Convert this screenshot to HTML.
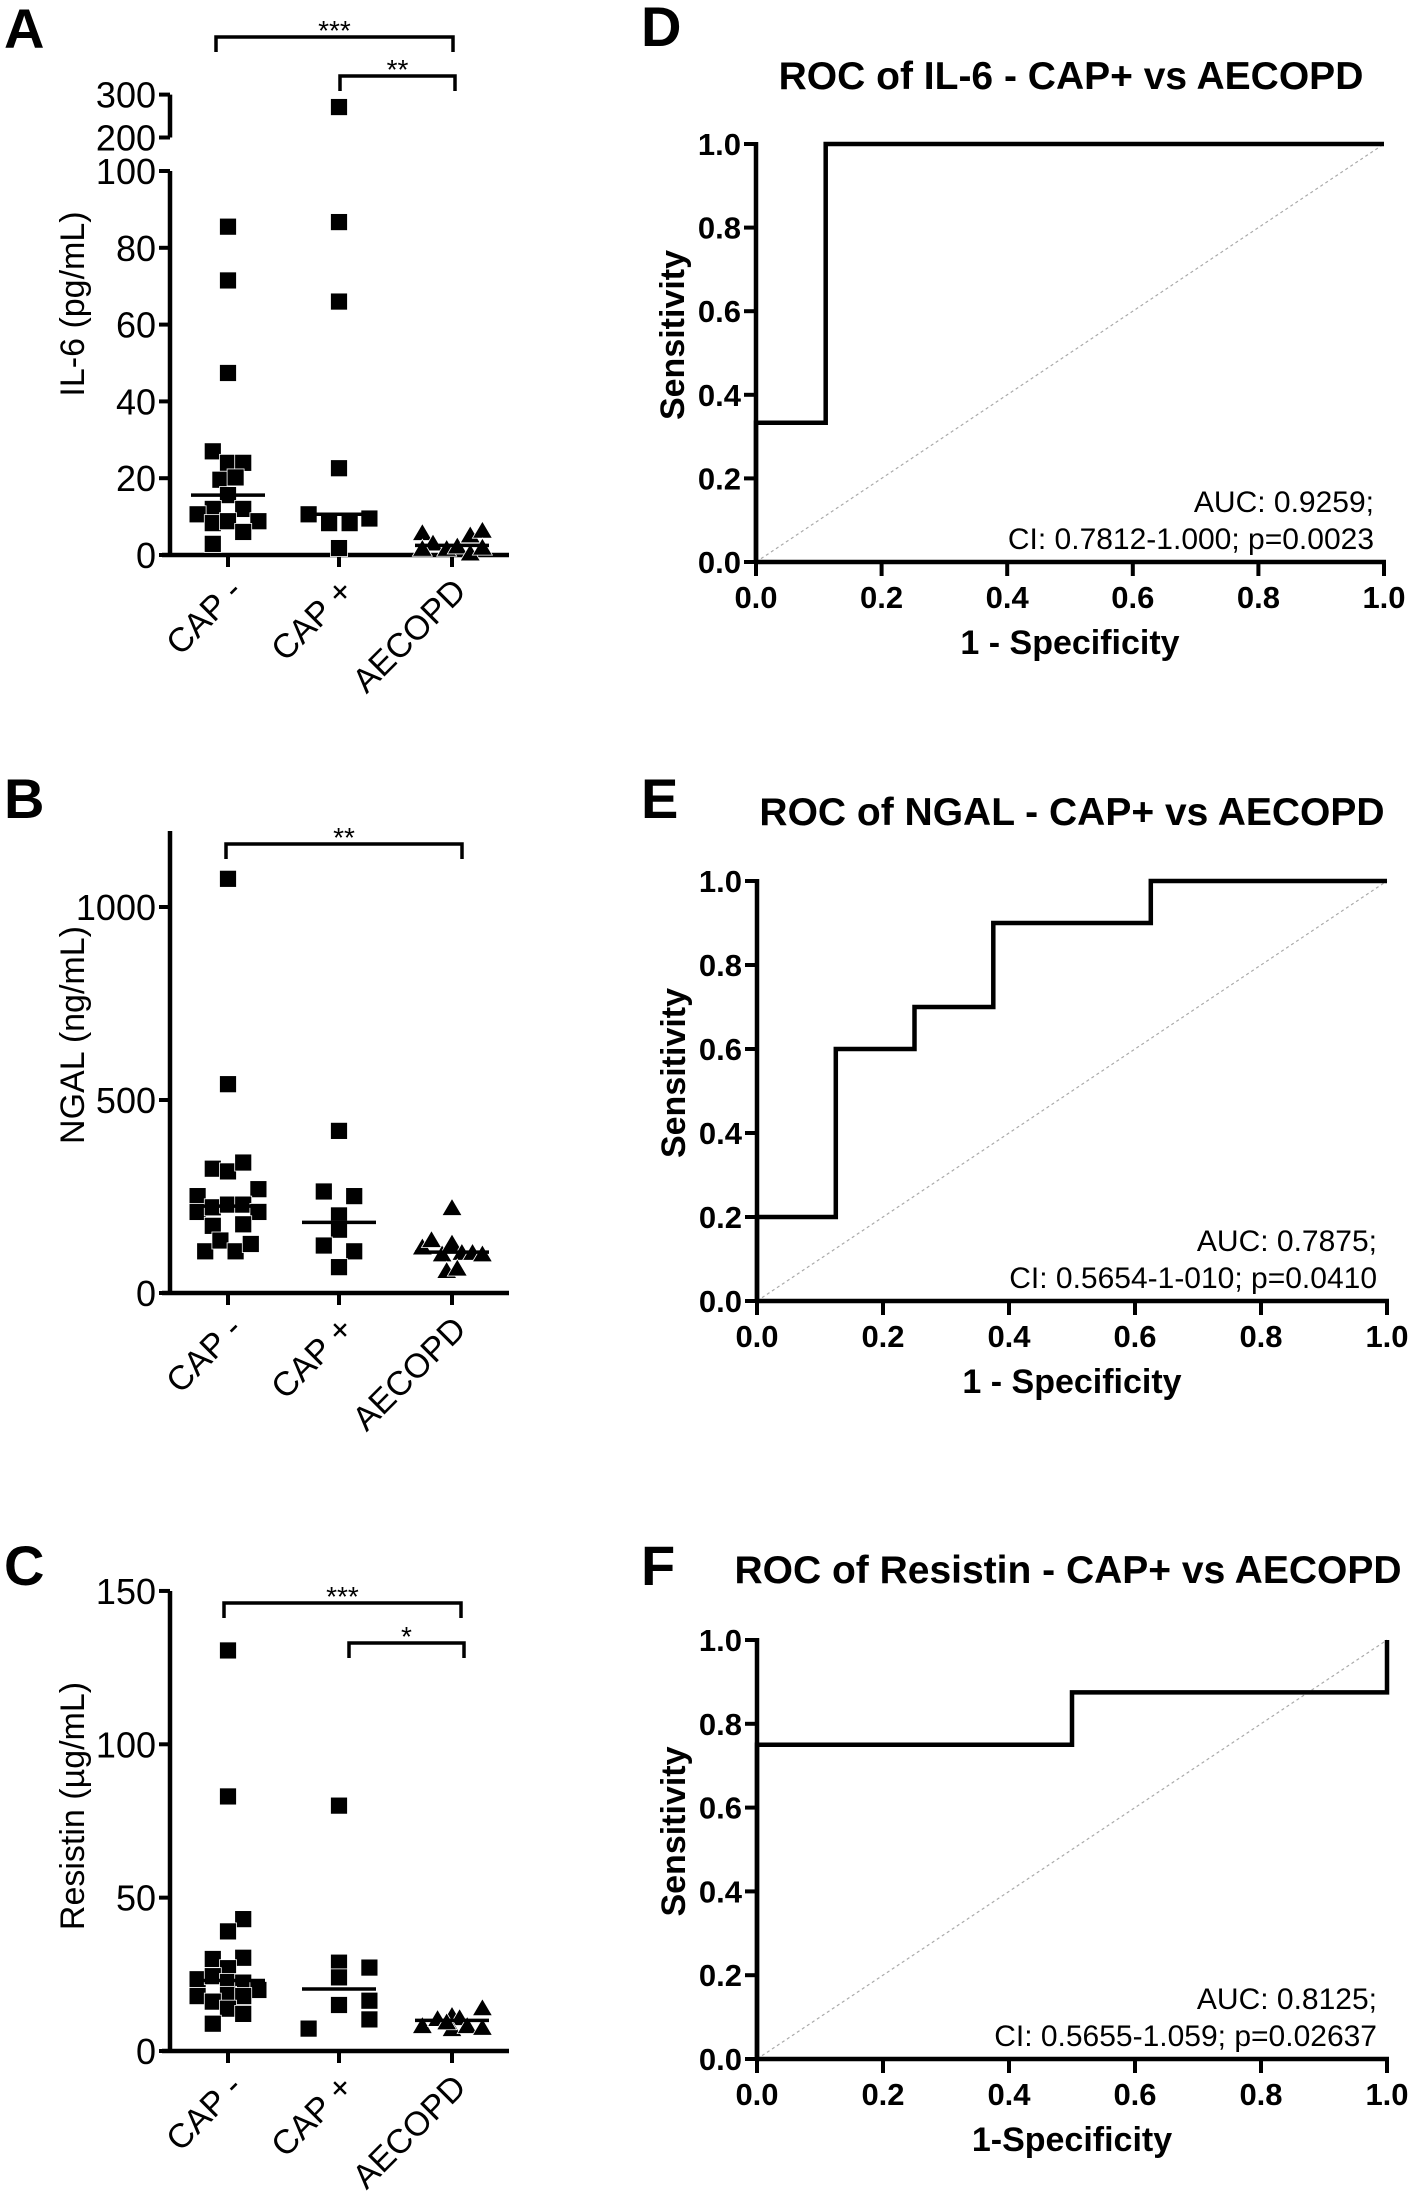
<!DOCTYPE html>
<html><head><meta charset="utf-8">
<style>
html,body{margin:0;padding:0;background:#fff;}
svg{display:block;font-family:"Liberation Sans",Arial,sans-serif;}
</style></head>
<body>
<svg id="fig" width="1417" height="2196" viewBox="0 0 1417 2196" xmlns="http://www.w3.org/2000/svg">
<rect width="1417" height="2196" fill="#fff"/>
<g font-weight="bold" font-size="56" fill="#000">
<text x="4" y="48">A</text>
<text x="4" y="818">B</text>
<text x="4" y="1585">C</text>
<text x="641" y="46">D</text>
<text x="641" y="818">E</text>
<text x="641" y="1585">F</text>
</g>
<g id="layer"></g>
</svg>
<script>
// ---------- Data: scatter panels ----------
const categories = ["CAP -", "CAP +", "AECOPD"];

const il6CapNeg = [85.5,71.5,47.4,27,24,24,19.6,20.2,15.6,12,12,10.6,8.3,8.8,8.8,6,2.9];
const il6CapPos = [271,86.7,66,22.6,10.6,8.3,8.3,9.5,1.8];
const il6Aecopd = [5.6,2.9,1.5,2.1,5,6.2,1.5,0.3,1.8];
const il6Medians = [15.6,10.6,2.5];

const ngalCapNeg = [1073,541,322,315,338,251,269,210,222,229,229,210,174,178,108,136,108,127];
const ngalCapPos = [420,263,251,201,164,123,108,67];
const ngalAecopd = [219,117,136,99,127,103,103,99,56,62];
const ngalMedians = [225,183,106];

const resCapNeg = [130.6,83,43,39,30,30.4,27,23.4,24.4,22.5,22.3,19.9,17.9,18.3,17.9,16.1,13.8,12.1,8.9];
const resCapPos = [80,28.8,27.2,24,15,16.4,10.3,7.3];
const resAecopd = [8,10.3,11.3,10.6,13.8,7,8,7.4,9.2];
const resMedians = [23,20.2,10];

const il6Ticks = [0,20,40,60,80,100];
const il6BreakTicks = [200,300];
const ngalTicks = [0,500,1000];
const resTicks = [0,50,100,150];

// ---------- Data: ROC panels ----------
const rocIl6Fpr = [0,0,0.111,0.111,1];
const rocIl6Tpr = [0,0.333,0.333,1,1];
const rocNgalFpr = [0,0,0.125,0.125,0.25,0.25,0.375,0.375,0.625,0.625,1];
const rocNgalTpr = [0,0.2,0.2,0.6,0.6,0.7,0.7,0.9,0.9,1,1];
const rocResFpr = [0,0,0.5,0.5,1,1];
const rocResTpr = [0,0.75,0.75,0.875,0.875,1];
const rocTicks = [0,0.2,0.4,0.6,0.8,1.0];

// jitter (layout units, not data)
const jA = [[0,0,0,-1,0,1,-0.5,0.5,0,-1,1,-2,-1,0,2,1,-1],[0,0,0,0,-2,-0.65,0.7,2,0],[-1.95,-1.25,-0.35,0.35,1.2,2,-1.95,1.2,2]];
const jB = [[0,0,-1,0,1,-2,2,-2,-1,0,1,2,-1,1,-1.5,-0.5,0.5,1.5],[0,-1,1,0,0,-1,1,0],[0,-1.95,-1.35,-0.65,0,0.65,1.35,2,-0.35,0.35]];
const jC = [[0,0,1,0,-1,1,0,-2,-1,0,1,2,-2,0,1,-1,0,1,-1],[0,0,2,0,0,2,2,-2],[-1.95,-0.95,0,0.5,2,0,1,2,-0.35]];

const NS = "http://www.w3.org/2000/svg";
const layer = document.getElementById("layer");
function mk(tag, attrs, parent, txt){
  const e = document.createElementNS(NS, tag);
  for (const k in attrs) e.setAttribute(k, attrs[k]);
  if (txt !== undefined) e.textContent = txt;
  (parent || layer).appendChild(e);
  return e;
}
function line(x1,y1,x2,y2,w,p,col){ return mk("line",{x1,y1,x2,y2,stroke:col||"#000","stroke-width":w||4},p); }

const catX = [228, 339, 452];
const AX = 170, XEND = 509, JU = 15.2, MS = 17;

function scatterPanel(cfg){
  const g = mk("g",{});
  
  
  const y0 = cfg.y(0);
  const xa = line(AX-8, y0, XEND, y0, 4.5, g);
  
  
  categories.forEach((c,i)=>{
    line(catX[i], y0, catX[i], y0+12, 4, g);
    const t = mk("text",{x:catX[i]+16,y:y0+38,"font-size":34,"text-anchor":"end",transform:`rotate(-45 ${catX[i]+16} ${y0+38})`},g,c);
    
    
  });
  const ya = line(AX, y0, AX, cfg.yTop, 4.5, g);
  
  
  cfg.ticks.forEach(v=>{
    const yy = cfg.y(v);
    line(AX-11, yy, AX, yy, 4, g);
    const t = mk("text",{x:AX-14,y:yy+13,"font-size":36,"text-anchor":"end"},g,String(v));
    
    
  });
  if (cfg.breakTicks){
    const ys = cfg.breakTicks.map(cfg.yUp);
    line(AX, ys[0], AX, ys[1], 4.5, g);
    cfg.breakTicks.forEach((v,i)=>{
      line(AX-11, ys[i], AX, ys[i], 4, g);
      const t = mk("text",{x:AX-14,y:ys[i]+13,"font-size":36,"text-anchor":"end"},g,String(v));
      
      
    });
  }
  const yl = mk("text",{x:0,y:0,"font-size":34,"text-anchor":"middle",transform:`translate(${cfg.labelX} ${cfg.labelY}) rotate(-90)`},g,cfg.label);
  
  
  cfg.series.forEach((vals,ci)=>{
    vals.forEach((v,k)=>{
      const cx = catX[ci] + cfg.jit[ci][k]*JU;
      const cy = (cfg.yUp && v > 150) ? cfg.yUp(v) : cfg.y(v);
      let m;
      if (ci < 2){
        m = mk("rect",{x:cx-MS/2,y:cy-MS/2,width:MS,height:MS,fill:"#000",stroke:"#fff","stroke-width":0.8},g);
      } else {
        m = mk("polygon",{points:`${cx},${cy-10} ${cx+10},${cy+7} ${cx-10},${cy+7}`,fill:"#000",stroke:"#fff","stroke-width":0.8},g);
      }
      
      
    });
  });
  cfg.medians.forEach((v,i)=>{
    const m = line(catX[i]-37, cfg.y(v), catX[i]+37, cfg.y(v), 3.5, g);
    
    
  });
  cfg.brackets.forEach(b=>{
    const p = mk("path",{d:`M${b.x1},${b.y+15} V${b.y} H${b.x2} V${b.y+15}`,fill:"none",stroke:"#000","stroke-width":3.5},g);
    
    
    const t = mk("text",{x:(b.x1+b.x2)/2,y:b.y+3,"font-size":28,"text-anchor":"middle"},g,b.s);
    
    
  });
}

scatterPanel({name:"panel-a-il6", y:v=>555 - v*3.84, yUp:v=>137.5-(v-200)*0.429, yTop:171,
  ticks:il6Ticks, breakTicks:il6BreakTicks, label:"IL-6 (pg/mL)", labelX:84, labelY:304,
  series:[il6CapNeg,il6CapPos,il6Aecopd], jit:jA, medians:il6Medians,
  brackets:[{x1:216,x2:453,y:37,s:"***"},{x1:340,x2:455,y:76,s:"**"}]});
scatterPanel({name:"panel-b-ngal", y:v=>1293 - v*0.386, yTop:831,
  ticks:ngalTicks, label:"NGAL (ng/mL)", labelX:84, labelY:1035,
  series:[ngalCapNeg,ngalCapPos,ngalAecopd], jit:jB, medians:ngalMedians,
  brackets:[{x1:226,x2:462,y:844,s:"**"}]});
scatterPanel({name:"panel-c-resistin", y:v=>2051 - v*3.067, yTop:1591,
  ticks:resTicks, label:"Resistin (µg/mL)", labelX:84, labelY:1806,
  series:[resCapNeg,resCapPos,resAecopd], jit:jC, medians:resMedians,
  brackets:[{x1:224,x2:461,y:1603,s:"***"},{x1:349,x2:464,y:1643,s:"*"}]});

function rocPanel(c){
  const g = mk("g",{});
  
  
  const sx = v => c.x0 + v*(c.x1-c.x0);
  const sy = v => c.y0 - v*(c.y0-c.y1);
  const t = mk("text",{x:c.tx,y:c.ty,"font-size":39,"font-weight":"bold","text-anchor":"middle"},g,c.title);
  
  
  const d = line(sx(0),sy(0),sx(1),sy(1),1.2,g,"#aaa");
  d.setAttribute("stroke-dasharray","3 3");
  
  
  const xa = line(c.x0-2, c.y0, c.x1+2, c.y0, 4.5, g);
  
  
  const ya = line(c.x0, c.y0+2, c.x0, c.y1-2, 4.5, g);
  
  
  rocTicks.forEach(v=>{
    line(sx(v), c.y0, sx(v), c.y0+14, 4, g);
    line(c.x0-12, sy(v), c.x0, sy(v), 4, g);
    const xl = mk("text",{x:sx(v),y:c.y0+46,"font-size":31,"font-weight":"bold","text-anchor":"middle"},g,v.toFixed(1));
    
    
    const yl = mk("text",{x:c.x0-15,y:sy(v)+11,"font-size":31,"font-weight":"bold","text-anchor":"end"},g,v.toFixed(1));
    
    
  });
  const xt = mk("text",{x:(c.x0+c.x1)/2,y:c.y0+92,"font-size":34,"font-weight":"bold","text-anchor":"middle"},g,c.xlabel);
  
  
  const yt = mk("text",{x:0,y:0,"font-size":34,"font-weight":"bold","text-anchor":"middle",transform:`translate(${c.x0-72} ${(c.y0+c.y1)/2-18}) rotate(-90)`},g,"Sensitivity");
  
  
  const pts = c.fpr.map((f,i)=>`${sx(f).toFixed(1)},${sy(c.tpr[i]).toFixed(1)}`).join(" ");
  const pl = mk("polyline",{points:pts,fill:"none",stroke:"#000","stroke-width":4.5,"stroke-linejoin":"miter"},g);
  
  
  const a1 = mk("text",{x:c.x1-10,y:c.y0-50,"font-size":30,"text-anchor":"end"},g,c.auc);
  
  
  const a2 = mk("text",{x:c.x1-10,y:c.y0-13,"font-size":30,"text-anchor":"end"},g,c.ci);
  
  
}
rocPanel({name:"panel-d-roc-il6",x0:756,x1:1384,y0:562,y1:144,tx:1071,ty:89,title:"ROC of IL-6 - CAP+ vs AECOPD",
  xlabel:"1 - Specificity",fpr:rocIl6Fpr,tpr:rocIl6Tpr,auc:"AUC: 0.9259;",ci:"CI: 0.7812-1.000; p=0.0023"});
rocPanel({name:"panel-e-roc-ngal",x0:757,x1:1387,y0:1301,y1:881,tx:1072,ty:825,title:"ROC of NGAL - CAP+ vs AECOPD",
  xlabel:"1 - Specificity",fpr:rocNgalFpr,tpr:rocNgalTpr,auc:"AUC: 0.7875;",ci:"CI: 0.5654-1-010; p=0.0410"});
rocPanel({name:"panel-f-roc-resistin",x0:757,x1:1387,y0:2059,y1:1640,tx:1068,ty:1583,title:"ROC of Resistin - CAP+ vs AECOPD",
  xlabel:"1-Specificity",fpr:rocResFpr,tpr:rocResTpr,auc:"AUC: 0.8125;",ci:"CI: 0.5655-1.059; p=0.02637"});
</script>
</body></html>
